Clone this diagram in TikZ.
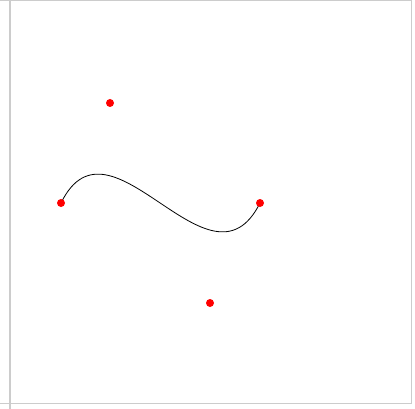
\documentclass[tikz,border=0pt]{standalone}
\begin{document}
\begin{tikzpicture}[x=1pt,y=-1pt,
  frame/.style={draw=black!20, line width=1pt},
  leftbar/.style={draw=black!20, line width=2pt},
  dot/.style={circle, fill=red, inner sep=0pt, minimum size=8pt},
  curve/.style={draw=black, line width=0.8pt}]
\useasboundingbox (0,0) rectangle (415,409);
\fill[white] (0,0) rectangle (415,409);
\draw[frame] (0,1) -- (411,1) -- (411,403) -- (0,403);
\draw[leftbar] (10,1) -- (10,409);
\coordinate (p0) at (61,203);
\coordinate (c1) at (110,103);
\coordinate (c2) at (210,303);
\coordinate (p1) at (260,203);
\draw[curve] (p0) .. controls (c1) and (c2) .. (p1);
\node[dot] (d0) at (p0) {};
\node[dot] (d1) at (c1) {};
\node[dot] (d2) at (c2) {};
\node[dot] (d3) at (p1) {};
\end{tikzpicture}
\end{document}
